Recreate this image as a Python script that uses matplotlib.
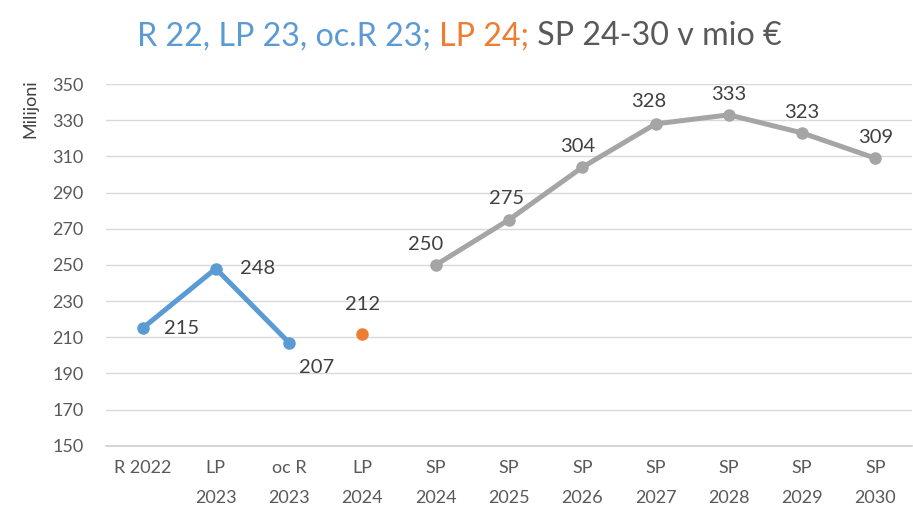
import matplotlib
matplotlib.use("Agg")
import matplotlib.pyplot as plt
from matplotlib.offsetbox import TextArea, HPacker, AnchoredOffsetbox

plt.rcParams['font.family'] = ['Lato', 'DejaVu Sans']

# data
categories = ["R 2022", "LP\n2023", "oc R\n2023", "LP\n2024", "SP\n2024", "SP\n2025",
              "SP\n2026", "SP\n2027", "SP\n2028", "SP\n2029", "SP\n2030"]
blue_idx = [0, 1, 2]
blue_vals = [215, 248, 207]
orange_idx = [3]
orange_vals = [212]
gray_idx = [4, 5, 6, 7, 8, 9, 10]
gray_vals = [250, 275, 304, 328, 333, 323, 309]

BLUE = "#5B9BD5"
ORANGE = "#ED7D31"
GRAY = "#A5A5A5"
TXT = "#595959"

fig = plt.figure(figsize=(9.13, 5.16), dpi=100)
ax = fig.add_axes([0.116, 0.136, 0.883, 0.701])

ax.plot(blue_idx, blue_vals, color=BLUE, lw=3.6, marker="o", ms=8, zorder=3)
ax.plot(orange_idx, orange_vals, color=ORANGE, lw=3.6, marker="o", ms=8, zorder=3)
ax.plot(gray_idx, gray_vals, color=GRAY, lw=3.6, marker="o", ms=8, zorder=3)

# data labels
lab_kw = dict(textcoords="offset points", fontsize=14.5, color="#404040", ha="center", va="center")
blue_off = [(28, 0), (30, 0), (20, -18)]
for i, v, off in zip(blue_idx, blue_vals, blue_off):
    ax.annotate(str(v), (i, v), xytext=off, **lab_kw)
for i, v in zip(orange_idx, orange_vals):
    ax.annotate(str(v), (i, v), xytext=(0, 21), **lab_kw)
gray_off = [(-7, 15), (-2, 15), (-3, 15), (-5, 16), (0, 15), (0, 15), (0, 15)]
for i, v, off in zip(gray_idx, gray_vals, gray_off):
    ax.annotate(str(v), (i, v), xytext=off, **lab_kw)

ax.set_xlim(-0.5, len(categories) - 0.5)
ax.set_ylim(150, 350)
ax.set_yticks(range(150, 351, 20))
ax.set_xticks(range(len(categories)))
ax.set_xticklabels(categories, linespacing=2.1)
ax.grid(axis="y", color="#D9D9D9", lw=1)
ax.set_axisbelow(True)
for s in ["top", "right", "left"]:
    ax.spines[s].set_visible(False)
ax.spines["bottom"].set_color("#D0D0D0")
ax.spines["bottom"].set_linewidth(1.2)
ax.tick_params(axis="both", length=0, labelsize=13, labelcolor=TXT)
ax.tick_params(axis="y", pad=16)
ax.tick_params(axis="x", pad=10)

fig.text(0.033, 0.79, "Milijoni", rotation=90, fontsize=13, color="#404040",
         ha="center", va="center")

# multi-coloured title
parts = [("R 22, LP 23, oc.R 23; ", BLUE), ("LP 24;", ORANGE), (" SP 24-30 v mio €", TXT)]
boxes = [TextArea(t, textprops=dict(color=c, fontsize=23.2)) for t, c in parts]
pack = HPacker(children=boxes, align="baseline", pad=0, sep=0)
anch = AnchoredOffsetbox(loc="center", child=pack, frameon=False,
                         bbox_to_anchor=(0.503, 0.930), bbox_transform=fig.transFigure,
                         borderpad=0, pad=0)
fig.add_artist(anch)

fig.savefig("out.png", dpi=100)
